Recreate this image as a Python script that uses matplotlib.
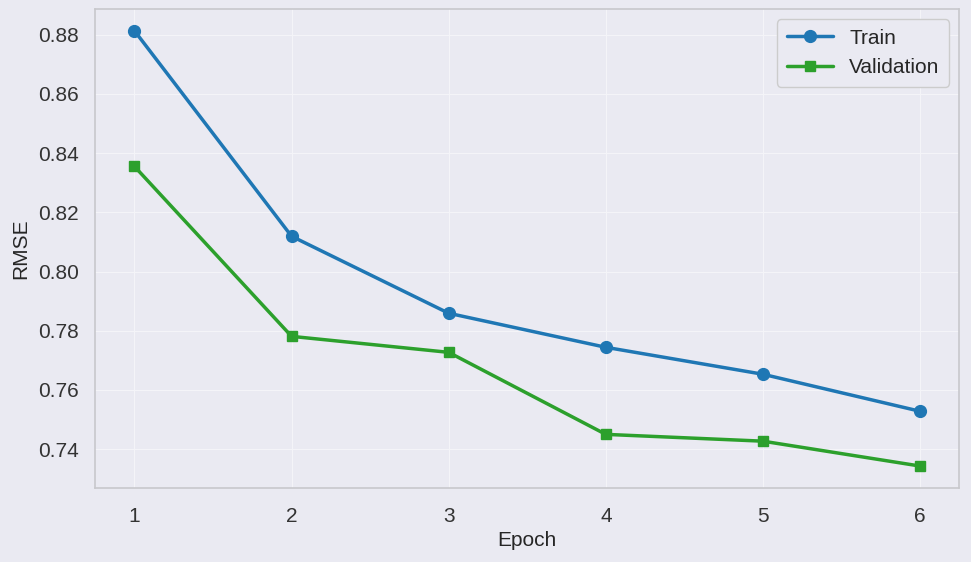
import matplotlib
matplotlib.use("Agg")
import matplotlib.pyplot as plt
import seaborn as sns

# %% Data
epochs = [1, 2, 3, 4, 5, 6]
train_rmse = [0.8813, 0.8119, 0.7859, 0.7744, 0.7653, 0.7528]
val_rmse = [0.8355, 0.7781, 0.7727, 0.7450, 0.7427, 0.7343]

# %% Style
sns.set_style("darkgrid")
plt.rcParams['font.family'] = ['Liberation Sans', 'DejaVu Sans']
plt.rcParams['axes.edgecolor'] = '#c8c8cc'
plt.rcParams['grid.color'] = '#f4f4f8'

# %% Plot
fig, ax = plt.subplots(figsize=(9.71, 5.62), dpi=100)
fig.patch.set_facecolor('#eaeaf2')
ax.plot(epochs, train_rmse, marker='o', color='#1f77b4', lw=2.5, ms=8.5, label='Train')
ax.plot(epochs, val_rmse, marker='s', color='#2ca02c', lw=2.5, ms=7.5, label='Validation')

ax.set_xlabel('Epoch', fontsize=15, labelpad=4)
ax.set_ylabel('RMSE', fontsize=15, labelpad=6)
ax.tick_params(axis='x', labelsize=15, colors='#333333', pad=10)
ax.tick_params(axis='y', labelsize=15, colors='#333333', pad=8)
for s in ax.spines.values():
    s.set_visible(True)
    s.set_linewidth(1.2)
ax.legend(fontsize=15, loc='upper right', facecolor='#eaeaf2', edgecolor='#cccccc',
          framealpha=1, handlelength=2.2, borderpad=0.45, labelspacing=0.5)

fig.subplots_adjust(left=0.098, right=0.988, top=0.984, bottom=0.132)
fig.savefig('out.png', dpi=100, facecolor=fig.get_facecolor())
